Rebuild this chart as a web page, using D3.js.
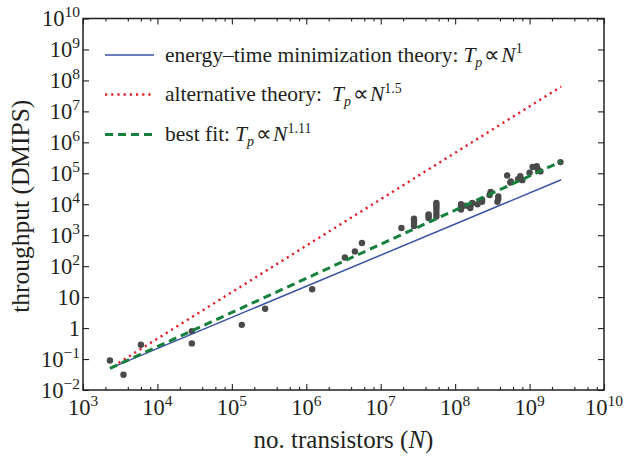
<!DOCTYPE html>
<html>
<head>
<meta charset="utf-8">
<script src="https://cdn.jsdelivr.net/npm/d3@7"></script>
<style>
  html, body { margin: 0; padding: 0; background: #fff; }
  svg text { font-family: "Liberation Serif", "Times New Roman", serif; fill: #231f20; }
</style>
</head>
<body>
<svg id="chart" width="626" height="458"></svg>
<script>
// ---------- data ----------
const xTickExps = ["3","4","5","6","7","8","9","10"];
const xTickValues = [1e3,1e4,1e5,1e6,1e7,1e8,1e9,1e10];
const yTickValues = [1e10,1e9,1e8,1e7,1e6,1e5,1e4,1e3,1e2,10,1,0.1,0.01];
const yTickBases = ["10","10","10","10","10","10","10","10","10","10","1","10","10"];
const yTickExps  = ["10","9","8","7","6","5","4","3","2","","","\u22121","\u22122"];

// processors: transistor count N, throughput in DMIPS
const pointsN = [2300, 3500, 6000, 29000, 29000, 1.36e5, 2.8e5, 1.2e6,
  3.3e6, 4.5e6, 5.6e6, 1.9e7,
  2.8e7, 2.8e7, 2.8e7, 2.8e7,
  4.4e7, 4.4e7, 4.4e7,
  5.6e7, 5.6e7, 5.6e7, 5.6e7, 5.6e7, 5.6e7,
  1.2e8, 1.2e8, 1.2e8, 1.4e8, 1.6e8, 1.6e8, 1.7e8,
  2.0e8, 2.3e8, 2.3e8, 2.9e8, 3.0e8,
  3.7e8, 3.8e8, 3.8e8,
  5.0e8, 5.5e8, 5.6e8, 7.0e8, 7.5e8, 8.0e8,
  1.0e9, 1.1e9, 1.25e9, 1.4e9, 1.3e9, 2.6e9];
const pointsT = [0.09, 0.031, 0.29, 0.32, 0.8, 1.27, 4.2, 18,
  190, 300, 560, 1700,
  2000, 2500, 3000, 3400,
  3600, 4200, 4700,
  4000, 5000, 6500, 8000, 9500, 11000,
  6800, 8500, 10000, 9000, 7500, 9000, 11000,
  10000, 14000, 12000, 20000, 25000,
  12000, 15000, 18000,
  85000, 50000, 55000, 65000, 80000, 60000,
  105000, 160000, 170000, 115000, 130000, 230000];

// theory / fit lines: endpoints [N, T]
const energyTimeLine = [[2300, 0.050], [2.66e9, 6.2e4]];
const alternativeLine = [[3000, 0.075], [2.66e9, 6.3e7]];
const bestFitLine = [[2300, 0.050], [2.66e9, 2.4e5]];

const legendItems = ["energy", "alt", "fit"];

// ---------- layout ----------
const svg = d3.select("#chart");
const L = 83, R = 604, T = 18.5, B = 390;
const x = d3.scaleLog().domain([1e3, 1e10]).range([L, R]);
const y = d3.scaleLog().domain([1e-2, 1e10]).range([B, T]);

const xMinor = [];
for (let e = 3; e < 10; e++) for (const m of [2,4,6,8]) xMinor.push(m * Math.pow(10, e));

const axisColor = "#231f20";

function styleAxis(g) {
  g.select(".domain").remove();
  g.selectAll(".tick line").attr("stroke", axisColor).attr("stroke-width", 1.1);
  g.selectAll(".tick text").remove();
}
svg.append("g").attr("transform", `translate(0,${B})`)
  .call(d3.axisBottom(x).tickValues(xTickValues).tickSize(-6).tickFormat("")).call(styleAxis);
svg.append("g").attr("transform", `translate(0,${B})`)
  .call(d3.axisBottom(x).tickValues(xMinor).tickSize(-3).tickFormat("")).call(styleAxis);
svg.append("g").attr("transform", `translate(0,${T})`)
  .call(d3.axisTop(x).tickValues(xTickValues).tickSize(-6).tickFormat("")).call(styleAxis);
svg.append("g").attr("transform", `translate(0,${T})`)
  .call(d3.axisTop(x).tickValues(xMinor).tickSize(-3).tickFormat("")).call(styleAxis);
svg.append("g").attr("transform", `translate(${L},0)`)
  .call(d3.axisLeft(y).tickValues(yTickValues).tickSize(-6).tickFormat("")).call(styleAxis);
svg.append("g").attr("transform", `translate(${R},0)`)
  .call(d3.axisRight(y).tickValues(yTickValues).tickSize(-6).tickFormat("")).call(styleAxis);

svg.append("rect").attr("x", L).attr("y", T).attr("width", R - L).attr("height", B - T)
  .attr("fill", "none").attr("stroke", axisColor).attr("stroke-width", 1.5);

// tick labels
const tickFont = 22.5, supFont = 15.5;
xTickValues.forEach((v, i) => {
  const t = svg.append("text").attr("x", x(v)).attr("y", B + 25)
    .attr("text-anchor", "middle").attr("font-size", tickFont);
  t.append("tspan").text("10");
  t.append("tspan").attr("font-size", supFont).attr("dy", -9).text(xTickExps[i]);
});
yTickValues.forEach((v, i) => {
  const t = svg.append("text").attr("x", 80).attr("y", y(v) + 7.5)
    .attr("text-anchor", "end").attr("font-size", tickFont);
  t.append("tspan").text(yTickBases[i]);
  if (yTickExps[i]) t.append("tspan").attr("font-size", supFont).attr("dy", -9).text(yTickExps[i]);
});

// axis titles
const xt = svg.append("text").attr("x", (L + R) / 2).attr("y", 448)
  .attr("text-anchor", "middle").attr("font-size", 25);
xt.append("tspan").text("no. transistors (");
xt.append("tspan").attr("font-style", "italic").text("N");
xt.append("tspan").text(")");
svg.append("text").attr("transform", `translate(29,${(T + B) / 2 + 2}) rotate(-90)`)
  .attr("text-anchor", "middle").attr("font-size", 25.5).text("throughput (DMIPS)");

// lines
const line = d3.line().x(d => x(d[0])).y(d => y(d[1]));
const styles = {
  energy: { color: "#3953a4", width: 1.5, dash: null },
  alt: { color: "#e2212b", width: 2.4, dash: "2.2,4" },
  fit: { color: "#16803c", width: 3, dash: "8,5" }
};
svg.append("clipPath").attr("id", "plotclip").append("rect")
  .attr("x", L).attr("y", T).attr("width", R - L).attr("height", B - T);

svg.append("g").selectAll("circle").data(pointsN.map((n, i) => [n, pointsT[i]]))
  .join("circle").attr("cx", d => x(d[0])).attr("cy", d => y(d[1])).attr("r", 3.2)
  .attr("fill", "#4a4a4a");

[[energyTimeLine, "energy"], [alternativeLine, "alt"], [bestFitLine, "fit"]].forEach(([d, k]) => {
  const s = styles[k];
  svg.append("path").datum(d).attr("d", line).attr("fill", "none")
    .attr("stroke", s.color).attr("stroke-width", s.width)
    .attr("stroke-dasharray", s.dash).attr("clip-path", "url(#plotclip)");
});

// legend
const legY = [55, 94.5, 134.5];
const legFont = 21.5, legSup = 14;
legendItems.forEach((k, i) => {
  const s = styles[k];
  svg.append("line").attr("x1", 105).attr("x2", 154).attr("y1", legY[i]).attr("y2", legY[i])
    .attr("stroke", s.color).attr("stroke-width", s.width).attr("stroke-dasharray", s.dash);
});
function legendText(i, prefix, gap, exp) {
  const t = svg.append("text").attr("x", 165).attr("y", legY[i] + 6.5).attr("font-size", legFont);
  t.append("tspan").text(prefix);
  t.append("tspan").attr("dx", gap).attr("font-style", "italic").text("T");
  t.append("tspan").attr("font-style", "italic").attr("font-size", legSup).attr("dy", 5).text("p");
  t.append("tspan").attr("dy", -5).attr("dx", 2).text("\u221D");
  t.append("tspan").attr("dx", 1).attr("font-style", "italic").text("N");
  t.append("tspan").attr("font-size", legSup).attr("dy", -8.5).text(exp);
}
legendText(0, "energy\u2013time minimization theory:", 5, "1");
legendText(1, "alternative theory:", 10, "1.5");
legendText(2, "best fit:", 5, "1.11");
</script>
</body>
</html>
